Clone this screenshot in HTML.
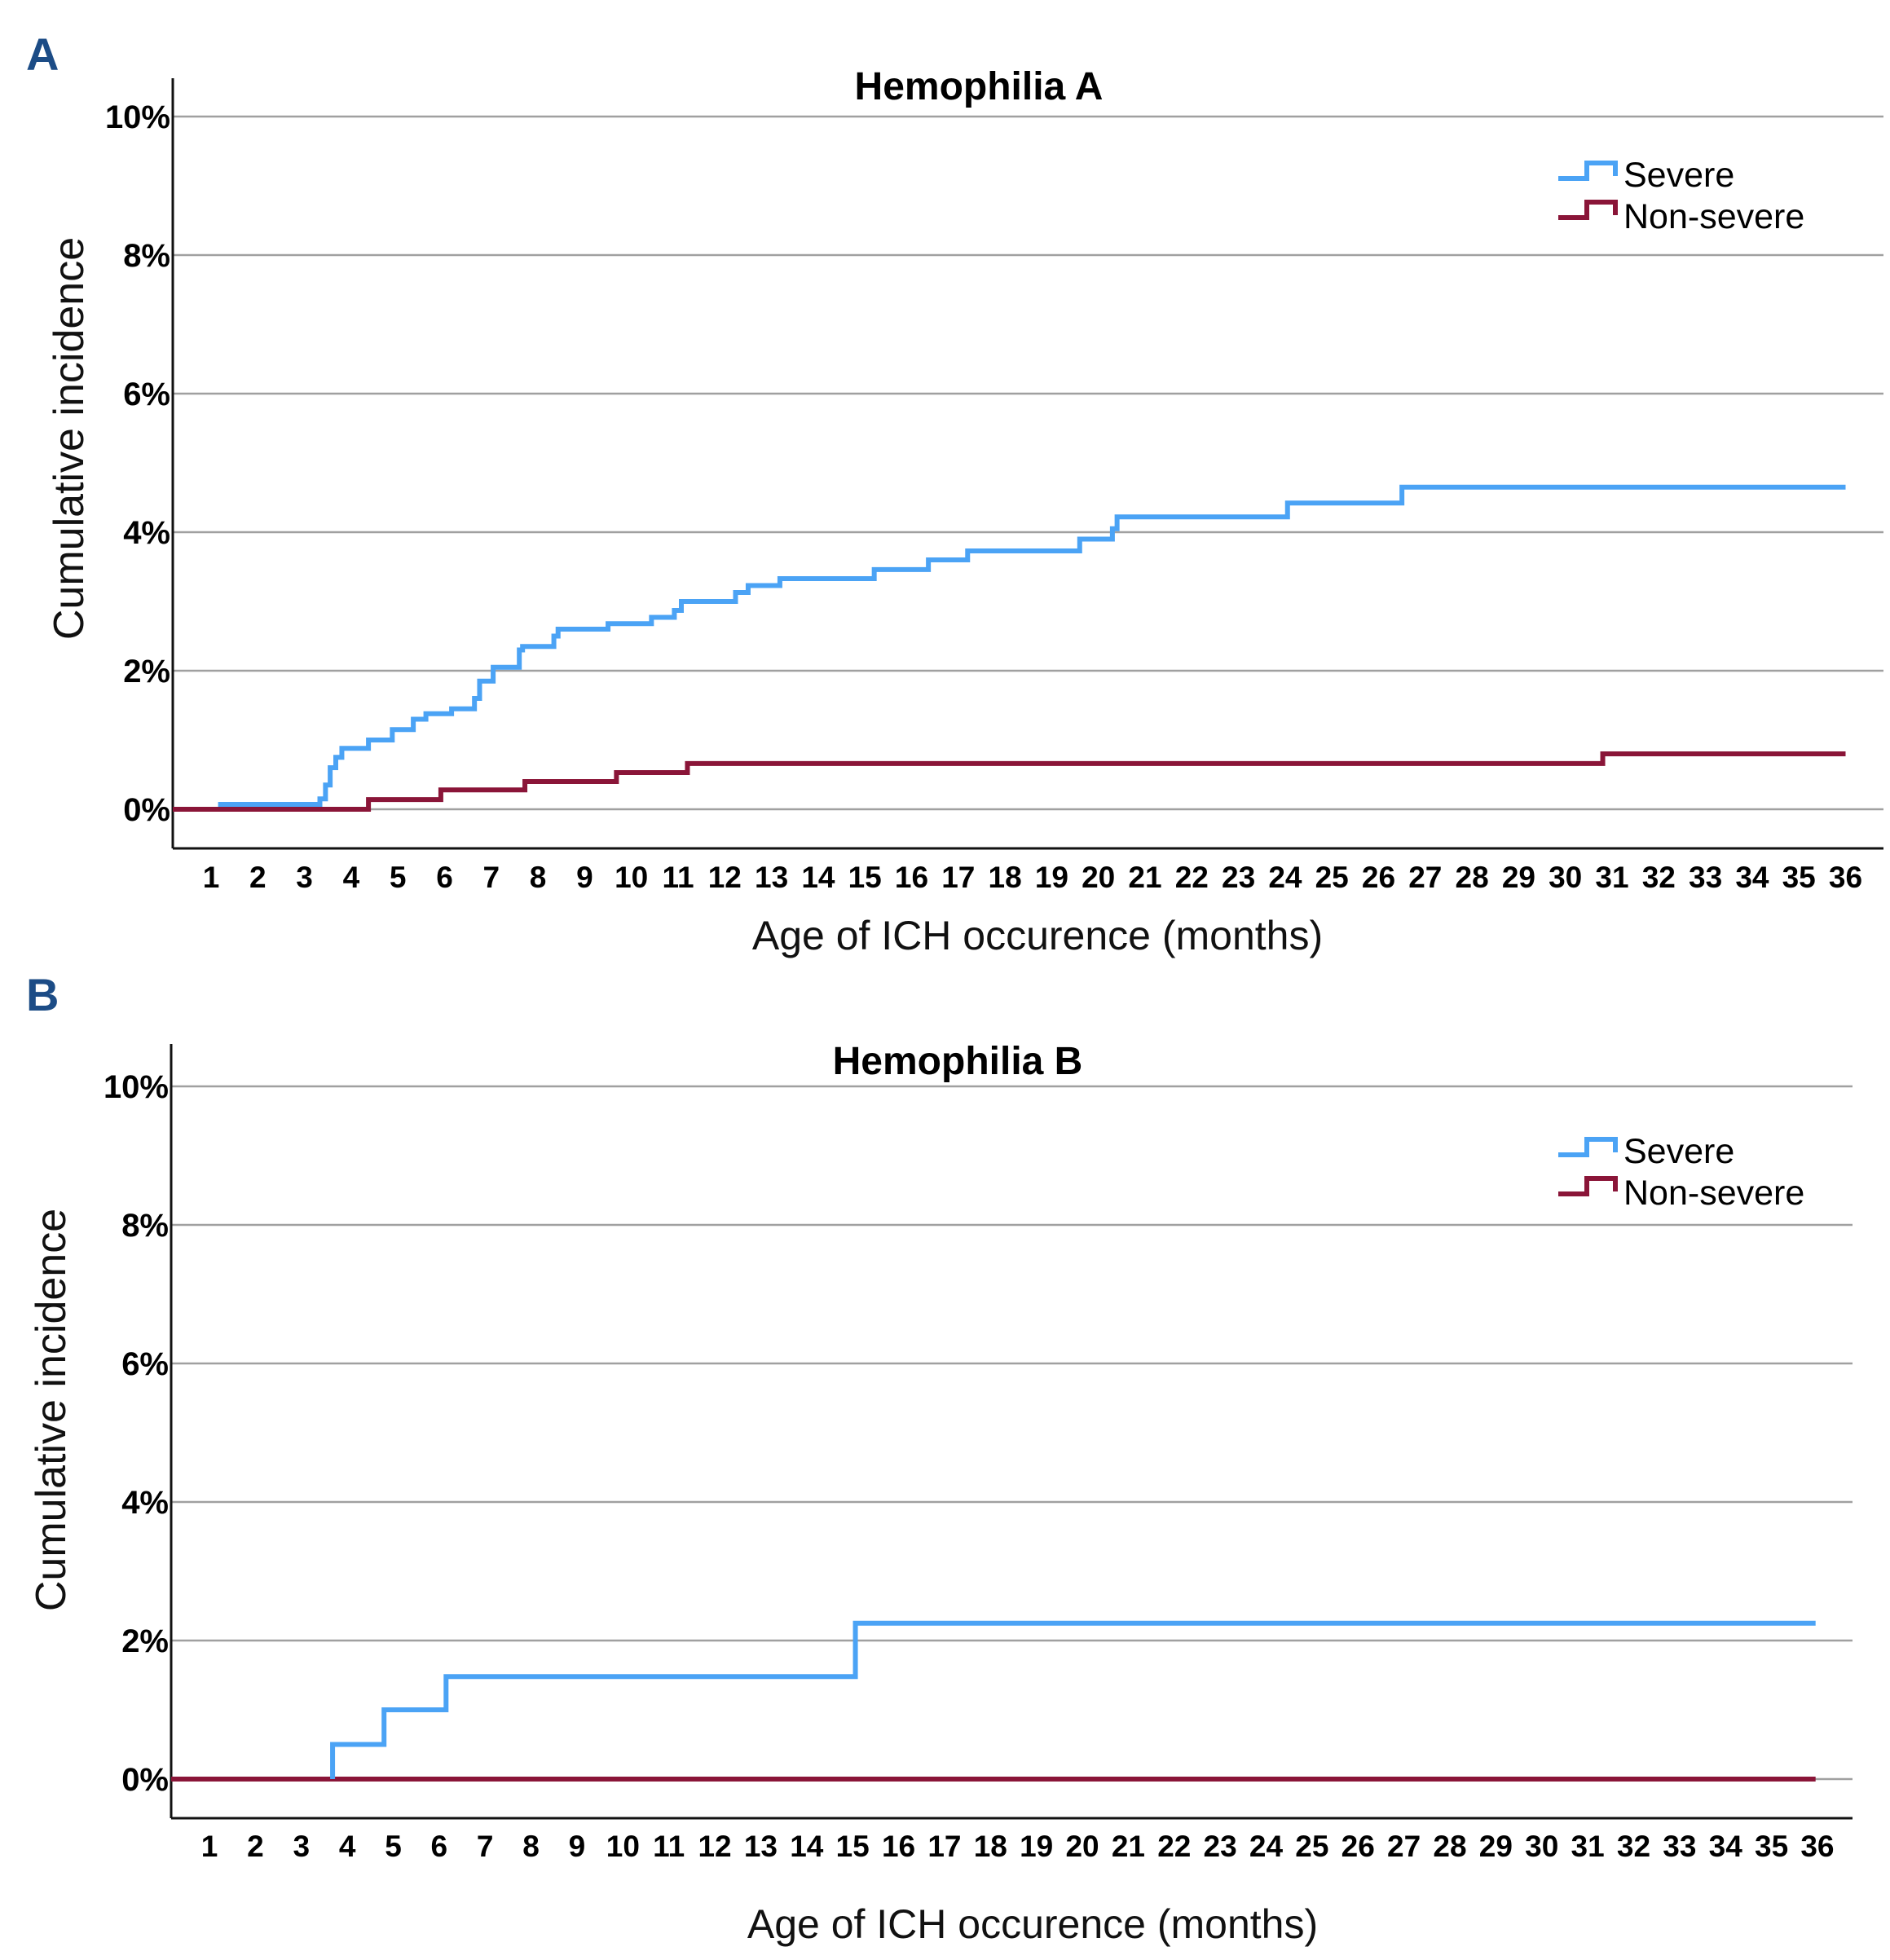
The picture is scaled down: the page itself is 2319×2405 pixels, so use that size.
<!DOCTYPE html>
<html><head><meta charset="utf-8"><style>
html,body{margin:0;padding:0;background:#fff;}
svg{display:block;}
</style></head><body>
<svg id="fig" xmlns="http://www.w3.org/2000/svg" width="2319" height="2405" viewBox="0 0 2319 2405" font-family="'Liberation Sans', sans-serif">
<rect x="0" y="0" width="2319" height="2405" fill="#fff"/>
<text x="32" y="86" font-size="56" font-weight="bold" fill="#1c4c86">A</text>
<text x="32" y="1240" font-size="56" font-weight="bold" fill="#1c4c86">B</text>
<g id="pa"></g>
<g id="pb"></g>
</svg>
<script>
// Panel A data (months, cumulative incidence %)
const aSevereX = [1.15, 3.33, 3.45, 3.55, 3.67, 3.8, 4.37, 4.88, 5.33, 5.6, 6.15, 6.64, 6.75, 7.04, 7.6, 7.67, 8.34, 8.43, 9.5, 10.43, 10.92, 11.07, 12.23, 12.5, 13.18, 15.2, 16.36, 17.2, 19.6, 20.3, 20.4, 24.05, 26.5, 36];
const aSevereY = [0.07, 0.15, 0.35, 0.6, 0.75, 0.88, 1.0, 1.15, 1.3, 1.38, 1.45, 1.6, 1.85, 2.05, 2.3, 2.35, 2.5, 2.6, 2.68, 2.77, 2.87, 3.0, 3.13, 3.23, 3.33, 3.46, 3.6, 3.73, 3.9, 4.05, 4.22, 4.42, 4.65, 4.65];
const aNonX = [0, 4.37, 5.92, 7.72, 9.68, 11.2, 30.8, 36];
const aNonY = [0, 0.14, 0.28, 0.4, 0.53, 0.66, 0.8, 0.8];
// Panel B data
const bSevereX = [3.68, 4.8, 6.15, 15.06, 35.96];
const bSevereY = [0.5, 1.0, 1.48, 2.25, 2.25];
const bNonX = [0, 35.96];
const bNonY = [0, 0];
const yTicks = [0, 2, 4, 6, 8, 10];
const yTickLabels = ["0%", "2%", "4%", "6%", "8%", "10%"];
const xTicks = Array.from({length:36}, (_, i) => i + 1);

const NS = "http://www.w3.org/2000/svg";
function mk(parent, tag, attrs) {
  const el = document.createElementNS(NS, tag);
  for (const k in attrs) el.setAttribute(k, attrs[k]);
  parent.appendChild(el);
  return el;
}
function stepPath(xs, ys, X, Y, startZero) {
  let d = "";
  if (startZero) d = "M" + X(xs[0]) + "," + Y(0) + " L" + X(xs[0]) + "," + Y(ys[0]);
  else d = "M" + X(xs[0]) + "," + Y(ys[0]);
  for (let i = 1; i < xs.length; i++) {
    d += " L" + X(xs[i]) + "," + Y(ys[i - 1]) + " L" + X(xs[i]) + "," + Y(ys[i]);
  }
  return d;
}
function panel(g, cfg) {
  const X = m => cfg.x1 + (m - 1) * cfg.dx;
  const Y = v => cfg.y0 - v * cfg.dy;
  yTicks.forEach((t, i) => {
    const gl = mk(g, "line", {x1: cfg.axisX, x2: cfg.gridEnd, y1: Y(t), y2: Y(t), stroke: "#a0a0a0", "stroke-width": 2.5});
    
    
    const tl = mk(g, "text", {x: cfg.axisX - 3, y: Y(t) + 14, "text-anchor": "end", "font-size": 40, "font-weight": "bold", fill: "#000", "font-family": "'Liberation Sans Narrow','Liberation Sans',sans-serif"});
    tl.textContent = yTickLabels[i];
    
    
  });
  xTicks.forEach(t => {
    const tl = mk(g, "text", {x: X(t), y: cfg.tickY, "text-anchor": "middle", "font-size": 37, "font-weight": "bold", fill: "#000", "font-family": "'Liberation Sans Narrow','Liberation Sans',sans-serif"});
    tl.textContent = t;
    
    
  });
  const ya = mk(g, "line", {x1: cfg.axisX, x2: cfg.axisX, y1: cfg.axisTop, y2: cfg.axisBot, stroke: "#111", "stroke-width": 3});
  
  
  const xa = mk(g, "line", {x1: cfg.axisX, x2: cfg.gridEnd, y1: cfg.axisBot, y2: cfg.axisBot, stroke: "#111", "stroke-width": 3});
  
  
  const nonD = stepPath(cfg.nonX, cfg.nonY, m => m === 0 ? cfg.axisX : X(m), Y, false);
  const np = mk(g, "path", {d: nonD, fill: "none", stroke: "#8a1538", "stroke-width": 6});
  
  
  const sevD = stepPath(cfg.sevX, cfg.sevY, X, Y, cfg.sevStartZero);
  const sp = mk(g, "path", {d: sevD, fill: "none", stroke: "#4ba3f5", "stroke-width": 6});
  
  
  const tt = mk(g, "text", {x: cfg.titleX, y: cfg.titleY, "text-anchor": "middle", "font-size": 48, "font-weight": "bold", fill: "#000"});
  tt.textContent = cfg.title;
  
  
  const xt = mk(g, "text", {x: cfg.xtX, y: cfg.xtY, "text-anchor": "middle", "font-size": 50, fill: "#111"});
  xt.textContent = "Age of ICH occurence (months)";
  
  
  const yt = mk(g, "text", {x: 0, y: 0, "text-anchor": "middle", "font-size": 52, fill: "#111", transform: "translate(" + cfg.ytX + "," + cfg.ytY + ") rotate(-90)"});
  yt.textContent = "Cumulative incidence";
  
  
  // legend
  const L = cfg.legY;
  const l1 = mk(g, "path", {d: "M1912," + L + " H1947 V" + (L - 19) + " H1982 V" + (L - 3), fill: "none", stroke: "#4ba3f5", "stroke-width": 6});
  
  
  const t1 = mk(g, "text", {x: 1992, y: L + 10, "font-size": 43, fill: "#000"});
  t1.textContent = "Severe";
  
  
  const L2 = L + 48;
  const l2 = mk(g, "path", {d: "M1912," + L2 + " H1947 V" + (L2 - 19) + " H1982 V" + (L2 - 3), fill: "none", stroke: "#8a1538", "stroke-width": 6});
  
  
  const t2 = mk(g, "text", {x: 1992, y: L2 + 13, "font-size": 43, fill: "#000"});
  t2.textContent = "Non-severe";
  
  
}
panel(document.getElementById("pa"), {
  x1: 259, dx: 57.3, y0: 993, dy: 85, axisX: 212, axisTop: 96, axisBot: 1041, gridEnd: 2311, tickY: 1089,
  sevX: aSevereX, sevY: aSevereY, nonX: aNonX, nonY: aNonY, sevStartZero: false,
  title: "Hemophilia A", titleX: 1201, titleY: 122, xtX: 1273, xtY: 1165, ytX: 102, ytY: 538, legY: 219
});
panel(document.getElementById("pb"), {
  x1: 257, dx: 56.37, y0: 2183, dy: 85, axisX: 210, axisTop: 1281, axisBot: 2231, gridEnd: 2273, tickY: 2278,
  sevX: bSevereX, sevY: bSevereY, nonX: bNonX, nonY: bNonY, sevStartZero: true,
  title: "Hemophilia B", titleX: 1175, titleY: 1318, xtX: 1267, xtY: 2378, ytX: 80, ytY: 1730, legY: 1417
});
</script>
</body></html>
